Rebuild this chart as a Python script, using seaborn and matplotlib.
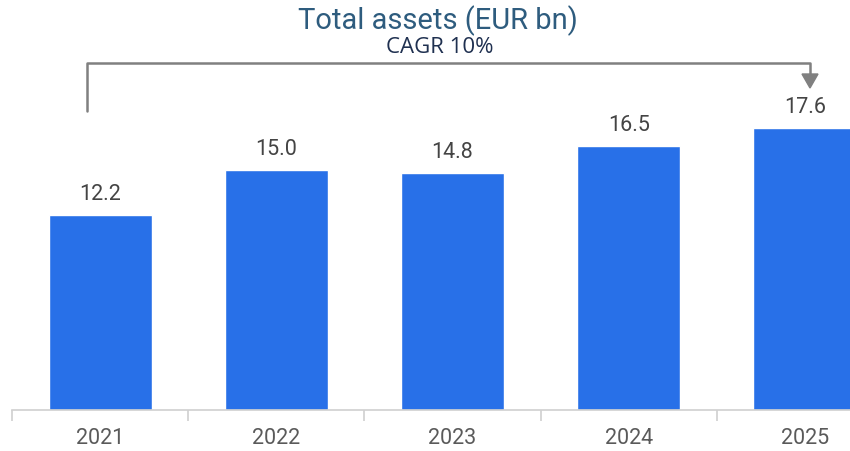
import numpy as np
import pandas as pd
import matplotlib
matplotlib.use("Agg")
import matplotlib.pyplot as plt
import seaborn as sns

years = ["2021", "2022", "2023", "2024", "2025"]
total_assets = [12.2, 15.0, 14.8, 16.5, 17.6]
title = "Total assets (EUR bn)"
cagr_label = "CAGR 10%"

df = pd.DataFrame({"year": years, "assets": total_assets})

sns.set_theme(style="white")
plt.rcParams["font.family"] = ["Roboto", "DejaVu Sans"]

fig = plt.figure(figsize=(8.5, 4.52), dpi=100)
# axes: x from 12px to 850px, baseline at y=411px
ax = fig.add_axes([12 / 850, 41 / 452, 838 / 850, 351 / 452])

sns.barplot(data=df, x="year", y="assets", color="#2870E8", width=0.585,
            saturation=1, ax=ax)

# separators between categories
ax.set_xticks(np.arange(-0.5, 4.0, 1), minor=True)
ax.tick_params(axis="x", which="minor", bottom=True, length=8, color="#d0d0d0", width=1.2)
ax.tick_params(axis="x", which="major", bottom=False, length=0, labelsize=15.5,
               labelcolor="#5a5a5a", pad=12)
ax.set_xlim(-0.5, 4.256)
ax.set_ylim(0, 351 / 16.0)

for i, v in enumerate(total_assets):
    ax.annotate(f"{v:.1f}", (i, v), xytext=(0, 8), textcoords="offset points",
                ha="center", va="bottom", fontsize=15.5, color="#444444")

sns.despine(ax=ax, left=True, top=True, right=True)
ax.spines["bottom"].set_color("#d0d0d0")
ax.spines["bottom"].set_linewidth(1.2)
ax.set_yticks([])
ax.set_xlabel("")
ax.set_ylabel("")

# title and CAGR label
fig.text(438 / 850, 1 - 21 / 452, title, ha="center", va="center",
         fontsize=21, color="#2E5C7E", family=["Roboto", "DejaVu Sans"])
fig.text(440 / 850, 1 - 48 / 452, cagr_label, ha="center", va="center",
         fontsize=16, color="#1F3050", family=["Open Sans", "DejaVu Sans"])

# bracket arrow from 2021 to 2025
gray = "#808080"
x0 = 87 / 850
x1 = 810 / 850
ytop = 1 - 64 / 452
fig.add_artist(plt.Line2D([x0, x0, x1, x1], [1 - 112 / 452, ytop, ytop, 1 - 76 / 452],
                          color=gray, lw=1.8, transform=fig.transFigure))
fig.add_artist(matplotlib.patches.Polygon(
    [[x1 - 8 / 850, 1 - 75 / 452], [x1 + 8 / 850, 1 - 75 / 452], [x1, 1 - 89 / 452]],
    closed=True, color=gray, transform=fig.transFigure))

fig.savefig("out.png", dpi=100)
